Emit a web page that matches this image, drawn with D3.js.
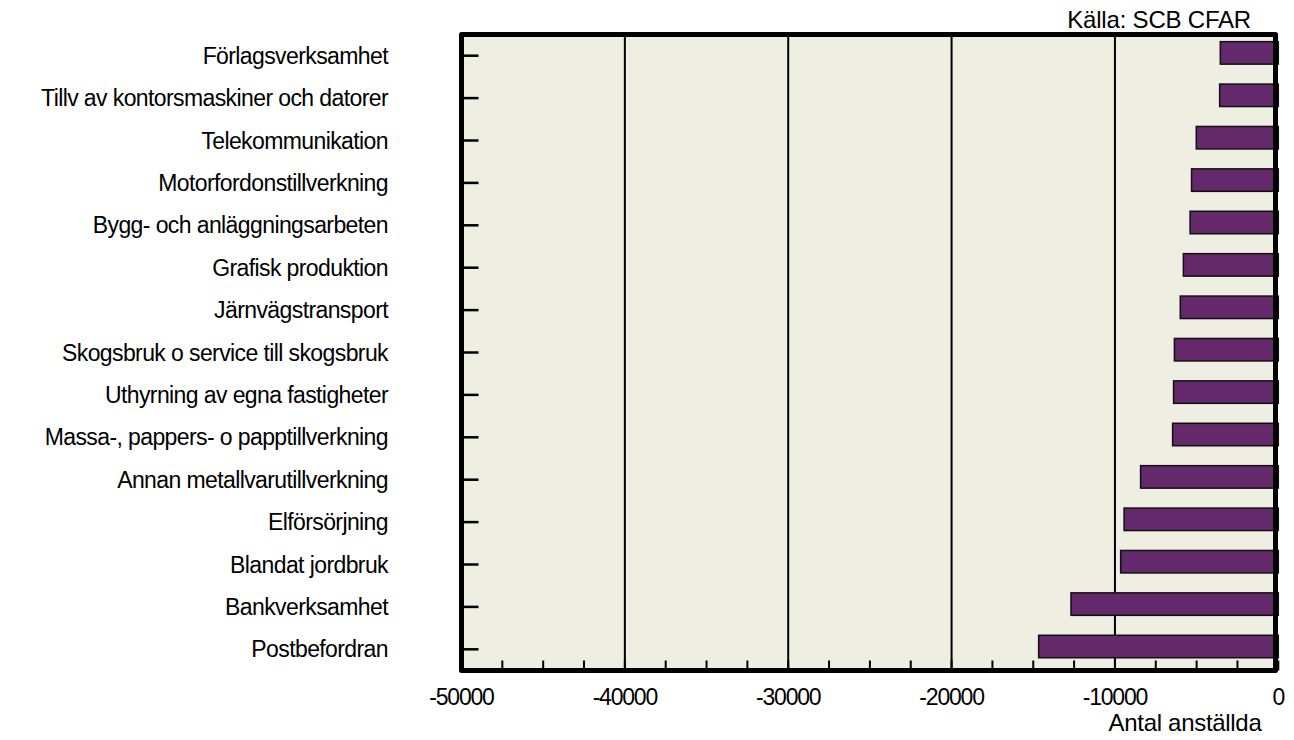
<!DOCTYPE html>
<html>
<head>
<meta charset="utf-8">
<script src="https://cdn.jsdelivr.net/npm/d3@7"></script>
<style>
  html, body { margin: 0; padding: 0; background: #ffffff; }
  svg { display: block; }
  text { font-family: "Liberation Sans", Arial, sans-serif; fill: #000; }
</style>
</head>
<body>
<svg id="chart" width="1294" height="740"></svg>
<script>
const categories = [
  "Förlagsverksamhet",
  "Tillv av kontorsmaskiner och datorer",
  "Telekommunikation",
  "Motorfordonstillverkning",
  "Bygg- och anläggningsarbeten",
  "Grafisk produktion",
  "Järnvägstransport",
  "Skogsbruk o service till skogsbruk",
  "Uthyrning av egna fastigheter",
  "Massa-, pappers- o papptillverkning",
  "Annan metallvarutillverkning",
  "Elförsörjning",
  "Blandat jordbruk",
  "Bankverksamhet",
  "Postbefordran"
];
const values = [
  -3550, -3590, -5020, -5310, -5400, -5810, -6000,
  -6360, -6410, -6470, -8430, -9440, -9650, -12690, -14670
];
const xTickValues = [-50000, -40000, -30000, -20000, -10000, 0];
const gridValues = [-40000, -30000, -20000, -10000];
const minorTickValues = d3.range(-50000, 1, 2500);
const sourceLabel = "Källa: SCB CFAR";
const xAxisTitle = "Antal anställda";

(function () {
const svg = d3.select("#chart");
const pL = 461.5, pR = 1275.5, pT = 34.5, pB = 670.5;

const x = d3.scaleLinear().domain([-50000, 0]).range([pL, 1278.3]);
const y = d3.scaleBand().domain(categories).range([pT, pB]).padding(0);
const bw = y.bandwidth();
const barH = bw * 0.53;
const barShift = -2.8;

svg.append("rect")
  .attr("x", pL).attr("y", pT)
  .attr("width", pR - pL).attr("height", pB - pT)
  .attr("fill", "#eeeee3");

svg.append("g").selectAll("line").data(gridValues).join("line")
  .attr("x1", d => x(d)).attr("x2", d => x(d))
  .attr("y1", pT).attr("y2", pB)
  .attr("stroke", "#000").attr("stroke-width", 2);

svg.append("g").selectAll("rect").data(categories).join("rect")
  .attr("x", (c, i) => x(values[i]))
  .attr("width", (c, i) => x(0) - x(values[i]))
  .attr("y", c => y(c) + bw / 2 - barH / 2 + barShift)
  .attr("height", barH)
  .attr("fill", "#63296a")
  .attr("stroke", "#111")
  .attr("stroke-width", 1.5);

svg.append("g").selectAll("line").data(categories).join("line")
  .attr("x1", pL).attr("x2", pL + 17)
  .attr("y1", c => y(c) + bw / 2).attr("y2", c => y(c) + bw / 2)
  .attr("stroke", "#000").attr("stroke-width", 2.5);

svg.append("g").selectAll("line").data(minorTickValues).join("line")
  .attr("x1", d => x(d)).attr("x2", d => x(d))
  .attr("y1", pB).attr("y2", pB - 10)
  .attr("stroke", "#000").attr("stroke-width", 2);

svg.append("rect")
  .attr("x", pL).attr("y", pT)
  .attr("width", pR - pL).attr("height", pB - pT)
  .attr("fill", "none")
  .attr("stroke", "#000").attr("stroke-width", 5)
  .attr("stroke-linejoin", "round");

svg.append("g").selectAll("text").data(categories).join("text")
  .attr("x", 388)
  .attr("y", c => y(c) + bw / 2 + 8)
  .attr("text-anchor", "end")
  .attr("font-size", 23)
  .attr("letter-spacing", -0.6)
  .text(c => c);

svg.append("g").selectAll("text").data(xTickValues).join("text")
  .attr("x", d => x(d))
  .attr("y", 705)
  .attr("text-anchor", "middle")
  .attr("font-size", 23)
  .attr("letter-spacing", -1.2)
  .text(d => String(d));

svg.append("text")
  .attr("x", 1185).attr("y", 731)
  .attr("text-anchor", "middle")
  .attr("font-size", 24)
  .attr("letter-spacing", -0.3)
  .text(xAxisTitle);

svg.append("text")
  .attr("x", 1251).attr("y", 28)
  .attr("text-anchor", "end")
  .attr("font-size", 24)
  .attr("letter-spacing", -0.2)
  .text(sourceLabel);
})();
</script>
</body>
</html>
